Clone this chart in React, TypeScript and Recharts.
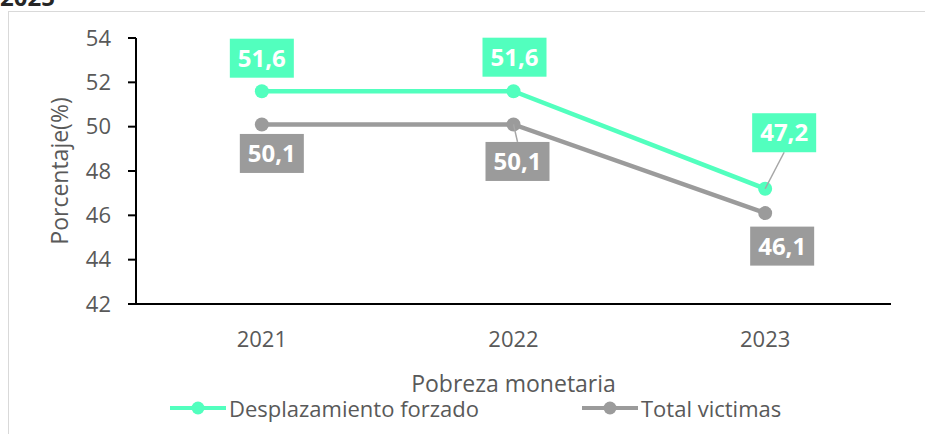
import { LineChart, Line, XAxis, YAxis, Legend } from 'recharts';

const years = ['2021', '2022', '2023'];
const desplazamiento = [51.6, 51.6, 47.2];
const totalVictimas = [50.1, 50.1, 46.1];
const yTicks = [42, 44, 46, 48, 50, 52, 54];

const data = years.map((year, i) => ({
  year,
  desplazamiento: desplazamiento[i],
  total: totalVictimas[i],
}));

const GREEN = '#52FFBE';
const GRAY = '#9B9B9B';
const TEXT = '#595959';
const FONT = '"Open Sans", "Noto Sans", sans-serif';

// label box placement relative to each point (dx, dy of box center, leader line?)
const greenLabelPos = [
  { dx: 0, dy: -33, leader: false },
  { dx: 1, dy: -34, leader: false },
  { dx: 19, dy: -56, leader: true },
];
const grayLabelPos = [
  { dx: 10, dy: 29, leader: false },
  { dx: 4, dy: 37, leader: true },
  { dx: 17, dy: 33, leader: false },
];

const BOX_W = 64;
const BOX_H = 39;

function makeBoxLabel(fill: string, pos: { dx: number; dy: number; leader: boolean }[]) {
  return (props: any) => {
    const { x, y, value, index } = props;
    const p = pos[index];
    const cx = x + p.dx;
    const cy = y + p.dy;
    const top = cy - BOX_H / 2;
    const bottom = cy + BOX_H / 2;
    const edgeY = p.dy < 0 ? bottom : top;
    return (
      <g>
        {p.leader && (
          <line x1={x} y1={y} x2={cx} y2={edgeY} stroke="#A6A6A6" strokeWidth={1.5} />
        )}
        <rect x={cx - BOX_W / 2} y={top} width={BOX_W} height={BOX_H} fill={fill} />
        <text
          x={cx}
          y={cy}
          dy="0.36em"
          textAnchor="middle"
          fill="#fff"
          fontWeight={700}
          fontSize={24}
          fontFamily={FONT}
        >
          {Number(value).toFixed(1).replace('.', ',')}
        </text>
      </g>
    );
  };
}

const YTitle = (props: any) => {
  const { viewBox } = props;
  const x = viewBox.x + 4;
  const y = 171;
  return (
    <text
      x={x}
      y={y}
      transform={`rotate(-90, ${x}, ${y})`}
      textAnchor="middle"
      dy="0.36em"
      fill={TEXT}
      fontSize={23}
      fontFamily={FONT}
    >
      Porcentaje(%)
    </text>
  );
};

const XTitle = (props: any) => {
  const { viewBox } = props;
  return (
    <text
      x={viewBox.x + viewBox.width / 2}
      y={viewBox.y + 88}
      textAnchor="middle"
      fill={TEXT}
      fontSize={23}
      fontFamily={FONT}
    >
      Pobreza monetaria
    </text>
  );
};

const legendItems = [
  { name: 'Desplazamiento forzado', color: GREEN, left: 170 },
  { name: 'Total victimas', color: GRAY, left: 582 },
];

const LegendContent = () => (
  <div style={{ position: 'relative', width: 925, height: 28 }}>
    {legendItems.map((item) => (
      <div
        key={item.name}
        style={{
          position: 'absolute',
          left: item.left,
          top: 0,
          height: 28,
          display: 'flex',
          alignItems: 'center',
        }}
      >
        <svg width={56} height={16}>
          <line x1={0} y1={8} x2={56} y2={8} stroke={item.color} strokeWidth={4} />
          <circle cx={28} cy={8} r={6.5} fill={item.color} />
        </svg>
        <span
          style={{
            marginLeft: 3,
            fontSize: 22,
            fontFamily: FONT,
            color: TEXT,
            lineHeight: '28px',
          }}
        >
          {item.name}
        </span>
      </div>
    ))}
  </div>
);

export default function App() {
  return (
    <div
      style={{
        position: 'absolute',
        left: 0,
        top: 0,
        width: 925,
        height: 434,
        overflow: 'hidden',
        background: '#fff',
      }}
    >
      <div
        style={{
          position: 'absolute',
          left: 0,
          top: -20,
          fontSize: 24,
          fontWeight: 700,
          fontFamily: FONT,
          color: '#262626',
        }}
      >
        2025
      </div>
      <div
        style={{
          position: 'absolute',
          left: 8,
          top: 11,
          width: 940,
          height: 440,
          border: '1.5px solid #D9D9D9',
        }}
      />
      <div style={{ position: 'absolute', left: 0, top: 0 }}>
        <LineChart
          width={925}
          height={434}
          data={data}
          margin={{ top: 38, right: 34, left: 56, bottom: 12 }}
        >
          <XAxis
            dataKey="year"
            scale="band"
            height={90}
            tickLine={false}
            tickSize={8}
            tickMargin={19}
            axisLine={{ stroke: '#000', strokeWidth: 2 }}
            tick={{ fill: TEXT, fontSize: 22, fontFamily: FONT }}
            label={<XTitle />}
          />
          <YAxis
            width={80}
            domain={[42, 54]}
            ticks={yTicks}
            interval={0}
            tickSize={8}
            tickMargin={17}
            axisLine={{ stroke: '#000', strokeWidth: 2 }}
            tickLine={{ stroke: '#000', strokeWidth: 2 }}
            tick={{ fill: TEXT, fontSize: 22, fontFamily: FONT }}
            label={<YTitle />}
          />
          <Legend
            verticalAlign="bottom"
            height={28}
            content={<LegendContent />}
            wrapperStyle={{ left: 0, width: 925 }}
          />
          <Line
            dataKey="total"
            name="Total victimas"
            stroke={GRAY}
            strokeWidth={4.5}
            dot={{ r: 7, fill: GRAY, stroke: GRAY, strokeWidth: 0 }}
            isAnimationActive={false}
            label={makeBoxLabel(GRAY, grayLabelPos)}
          />
          <Line
            dataKey="desplazamiento"
            name="Desplazamiento forzado"
            stroke={GREEN}
            strokeWidth={4.5}
            dot={{ r: 7, fill: GREEN, stroke: GREEN, strokeWidth: 0 }}
            isAnimationActive={false}
            label={makeBoxLabel(GREEN, greenLabelPos)}
          />
        </LineChart>
      </div>
    </div>
  );
}
